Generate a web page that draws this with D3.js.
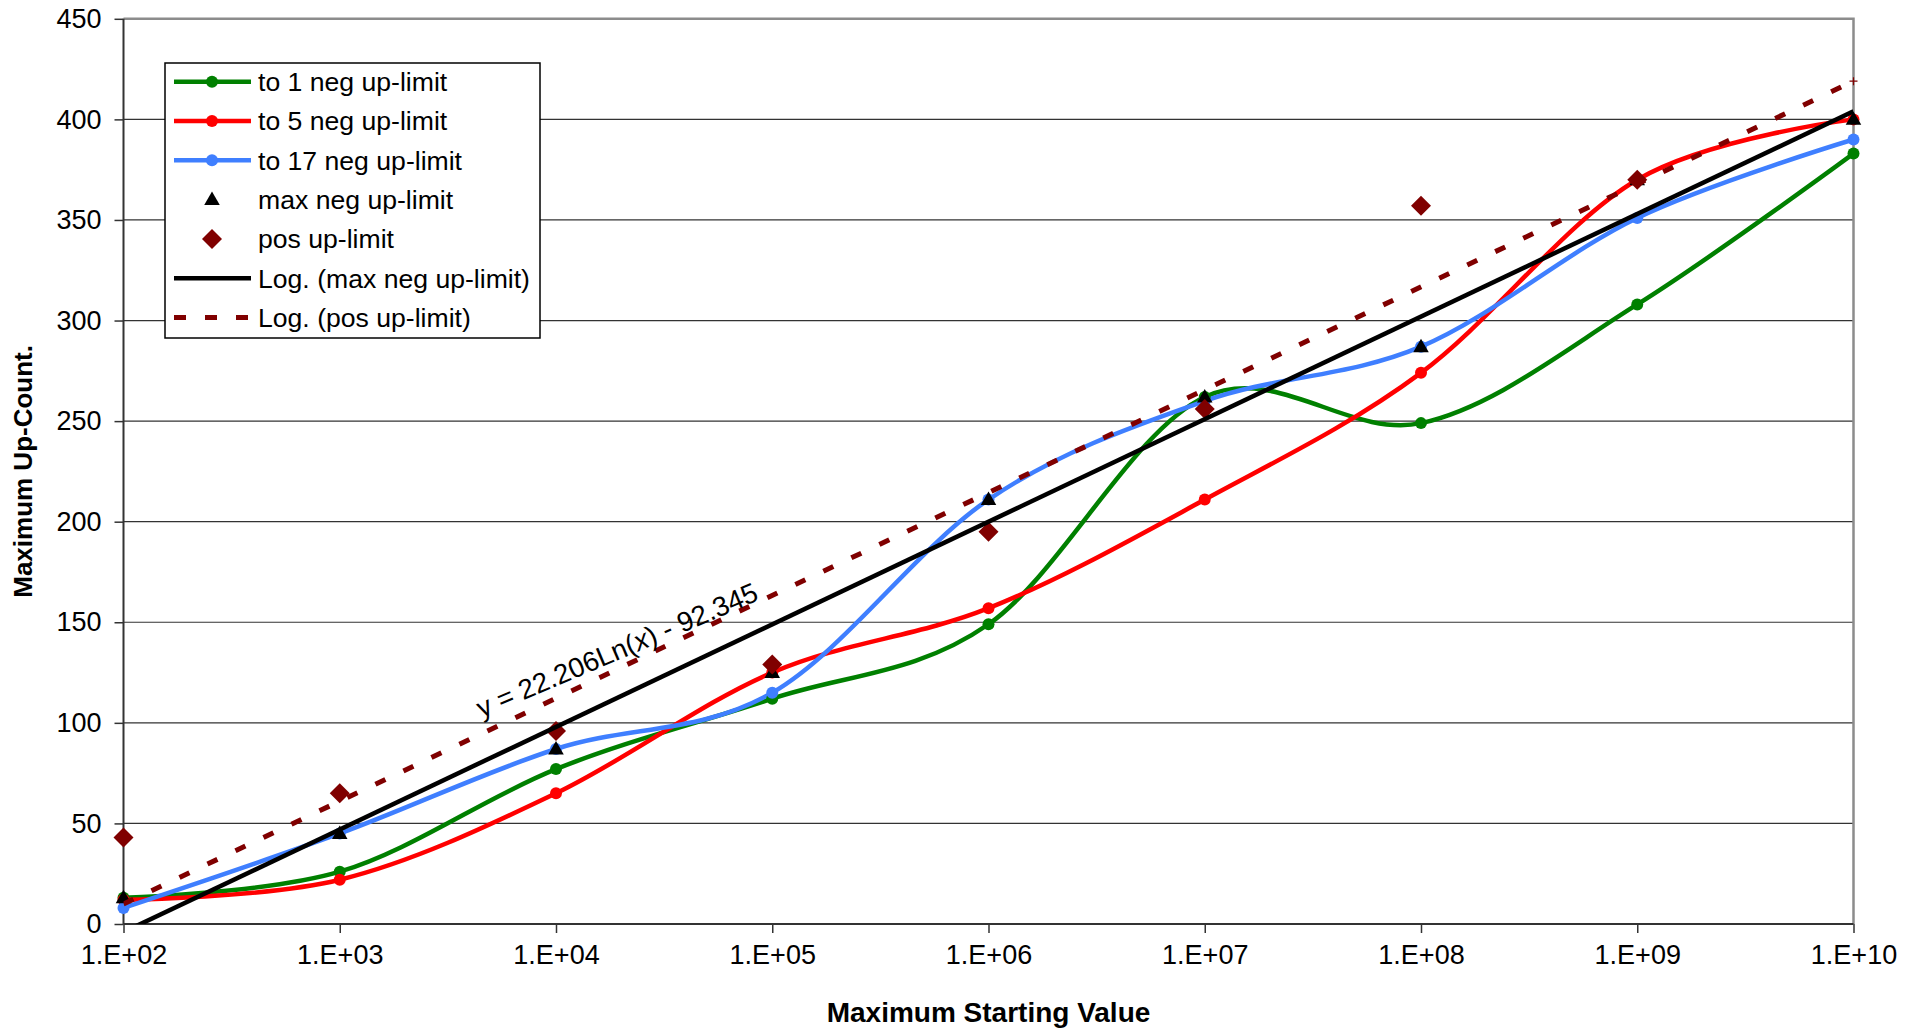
<!DOCTYPE html>
<html>
<head>
<meta charset="utf-8">
<script src="https://cdn.jsdelivr.net/npm/d3@7/dist/d3.min.js"></script>
<style>
  html, body { margin: 0; padding: 0; background: #fff; }
  svg { display: block; font-family: "Liberation Sans", Arial, sans-serif; }
</style>
</head>
<body>
<svg id="chart" width="1923" height="1032"></svg>
<script>
// Maximum starting values (x) and the up-counts reached for each rule
const startValues = [1e2, 1e3, 1e4, 1e5, 1e6, 1e7, 1e8, 1e9, 1e10];
const toOneNeg = [13, 26, 77, 112, 149, 262, 249, 308, 383];
const toFiveNeg = [12, 22, 65, 125, 157, 211, 274, 370, 400];
const toSeventeenNeg = [8, 45, 87, 115, 211, 260, 287, 351, 390];
const maxNeg = [13, 45, 87, 125, 211, 262, 287, 370, 400];
const posStartValues = [1e2, 1e3, 1e4, 1e5, 1e6, 1e7, 1e8, 1e9];
const posUpLimit = [43, 65, 96, 129, 195, 256, 357, 370];

// Logarithmic fit of the positive up-limit: y = a*ln(x) + b
const posFitA = 22.206;
const posFitB = -92.345;

const xTickValues = [1e2, 1e3, 1e4, 1e5, 1e6, 1e7, 1e8, 1e9, 1e10];
const yTickValues = [0, 50, 100, 150, 200, 250, 300, 350, 400, 450];

const seriesNames = ["to 1 neg up-limit", "to 5 neg up-limit", "to 17 neg up-limit",
  "max neg up-limit", "pos up-limit", "Log. (max neg up-limit)", "Log. (pos up-limit)"];
const colGreen = "#008000", colRed = "#ff0000", colBlue = "#3f7fff", colDark = "#800000";

const svg = d3.select("#chart");
const pL = 123.5, pR = 1853.5, pT = 18.8, pB = 924;

const x = d3.scaleLog().domain([1e2, 1e10]).range([pL, pR]);
const y = d3.scaleLinear().domain([0, 450]).range([pB, pT]);

svg.append("defs").append("clipPath").attr("id", "plotClip")
  .append("rect").attr("x", pL).attr("y", pT).attr("width", pR - pL).attr("height", pB - pT);

// horizontal gridlines
svg.append("g").selectAll("line").data(yTickValues.filter(v => v > 0 && v < 450)).join("line")
  .attr("x1", pL).attr("x2", pR).attr("y1", d => y(d)).attr("y2", d => y(d))
  .attr("stroke", "#333").attr("stroke-width", 1.2);

// plot frame: grey top and right edges
svg.append("path")
  .attr("d", `M${pL},${y(450)}H${pR}V${pB}`)
  .attr("fill", "none").attr("stroke", "#8c8c8c").attr("stroke-width", 2.5);

// axes
const fmtX = d => "1.E+" + String(Math.round(Math.log10(d))).padStart(2, "0");
const xAxis = d3.axisBottom(x).tickValues(xTickValues).tickFormat(fmtX).tickSize(9).tickPadding(12);
const yAxis = d3.axisLeft(y).tickValues(yTickValues).tickFormat(d3.format("d")).tickSize(9).tickPadding(13);

const gx = svg.append("g").attr("transform", `translate(0,${pB})`).call(xAxis);
const gy = svg.append("g").attr("transform", `translate(${pL},0)`).call(yAxis);
[gx, gy].forEach(g => {
  g.select(".domain").attr("stroke", "#333").attr("stroke-width", 2);
  g.selectAll(".tick line").attr("stroke", "#333").attr("stroke-width", 1.5);
  g.selectAll(".tick text").attr("fill", "#000").attr("font-size", 27)
    .attr("font-family", "'Liberation Sans', Arial, sans-serif");
});
gy.select(".domain").attr("d", `M0,${pB}V${pT}`);
gx.select(".domain").attr("d", `M${pL},0H${pR}`);

// axis titles
svg.append("text").attr("x", (pL + pR) / 2).attr("y", 1022)
  .attr("text-anchor", "middle").attr("font-size", 28).attr("font-weight", "bold")
  .text("Maximum Starting Value");
svg.append("text").attr("transform", `translate(32,${(pT + pB) / 2}) rotate(-90)`)
  .attr("text-anchor", "middle").attr("font-size", 26).attr("font-weight", "bold")
  .text("Maximum Up-Count.");

const plot = svg.append("g").attr("clip-path", "url(#plotClip)");
const marks = svg.append("g");

const smooth = d3.line().x(d => x(d[0])).y(d => y(d[1])).curve(d3.curveCatmullRom.alpha(0));
const zip = (xs, ys) => xs.map((v, i) => [v, ys[i]]);

const lineSeries = [
  { values: toOneNeg, color: colGreen },
  { values: toFiveNeg, color: colRed },
  { values: toSeventeenNeg, color: colBlue }
];
lineSeries.forEach(s => {
  const pts = zip(startValues, s.values);
  plot.append("path").attr("d", smooth(pts)).attr("fill", "none")
    .attr("stroke", s.color).attr("stroke-width", 4.5);
  marks.append("g").selectAll("circle").data(pts).join("circle")
    .attr("cx", d => x(d[0])).attr("cy", d => y(d[1])).attr("r", 6).attr("fill", s.color);
});

const triSym = d3.symbol().type(d3.symbolTriangle).size(105);
const diaSym = d3.symbol().type(d3.symbolSquare).size(200);

marks.append("g").selectAll("path").data(zip(startValues, maxNeg)).join("path")
  .attr("d", triSym).attr("transform", d => `translate(${x(d[0])},${y(d[1]) + 1})`)
  .attr("fill", "#000");
marks.append("g").selectAll("path").data(zip(posStartValues, posUpLimit)).join("path")
  .attr("d", diaSym).attr("transform", d => `translate(${x(d[0])},${y(d[1])}) rotate(45)`)
  .attr("fill", colDark);

// least-squares log fit of the max negative up-limit
function logFit(xs, ys) {
  const lx = xs.map(Math.log);
  const mx = d3.mean(lx), my = d3.mean(ys);
  const sxy = d3.sum(lx, (v, i) => (v - mx) * (ys[i] - my));
  const sxx = d3.sum(lx, v => (v - mx) * (v - mx));
  const a = sxy / sxx;
  return { a, b: my - a * mx };
}
const negFit = logFit(startValues, maxNeg);
const trend = (fit) => [1e2, 1e10].map(v => [v, fit.a * Math.log(v) + fit.b]);
const straight = d3.line().x(d => x(d[0])).y(d => y(d[1]));

const trends = svg.append("g").attr("clip-path", "url(#plotClip)");
trends.append("path").attr("d", straight(trend(negFit))).attr("fill", "none")
  .attr("stroke", "#000").attr("stroke-width", 4.5);
const posTrend = trend({ a: posFitA, b: posFitB });
trends.append("path").attr("d", straight(posTrend)).attr("fill", "none")
  .attr("stroke", colDark).attr("stroke-width", 5).attr("stroke-dasharray", "11,20");

// small end marker of the positive trend
const endPt = posTrend[1];
svg.append("path")
  .attr("d", `M${x(endPt[0]) - 4},${y(endPt[1])}h8M${x(endPt[0])},${y(endPt[1]) - 4}v8`)
  .attr("stroke", colDark).attr("stroke-width", 1.2);

// trend equation label
const eq = svg.append("text")
  .attr("transform", "translate(617,650) rotate(-23)")
  .attr("text-anchor", "middle").attr("dy", "0.35em").attr("font-size", 27.7).attr("fill", "#000");
eq.append("tspan").text(`y = ${posFitA.toFixed(3)}Ln(`);
eq.append("tspan").attr("font-style", "italic").text("x");
eq.append("tspan").text(`) - ${Math.abs(posFitB).toFixed(3)}`);

// legend
const lg = svg.append("g");
lg.append("rect").attr("x", 165).attr("y", 63).attr("width", 375).attr("height", 275)
  .attr("fill", "#fff").attr("stroke", "#000").attr("stroke-width", 1.5);
const rowY = i => 81.7 + i * 39.3;
const lx1 = 174, lx2 = 251, lmx = 212, ltx = 258;
seriesNames.forEach((name, i) => {
  const cy = rowY(i);
  if (i < 3) {
    const c = [colGreen, colRed, colBlue][i];
    lg.append("line").attr("x1", lx1).attr("x2", lx2).attr("y1", cy).attr("y2", cy)
      .attr("stroke", c).attr("stroke-width", 4.5);
    lg.append("circle").attr("cx", lmx).attr("cy", cy).attr("r", 6).attr("fill", c);
  } else if (i === 3) {
    lg.append("path").attr("d", triSym).attr("transform", `translate(${lmx},${cy + 1})`).attr("fill", "#000");
  } else if (i === 4) {
    lg.append("path").attr("d", diaSym).attr("transform", `translate(${lmx},${cy}) rotate(45)`).attr("fill", colDark);
  } else if (i === 5) {
    lg.append("line").attr("x1", lx1).attr("x2", lx2).attr("y1", cy).attr("y2", cy)
      .attr("stroke", "#000").attr("stroke-width", 4.5);
  } else {
    lg.append("line").attr("x1", lx1).attr("x2", lx2).attr("y1", cy).attr("y2", cy)
      .attr("stroke", colDark).attr("stroke-width", 5).attr("stroke-dasharray", "12,19");
  }
  lg.append("text").attr("x", ltx).attr("y", cy).attr("dy", "0.35em")
    .attr("font-size", 26.6).attr("fill", "#000").text(name);
});
</script>
</body>
</html>
